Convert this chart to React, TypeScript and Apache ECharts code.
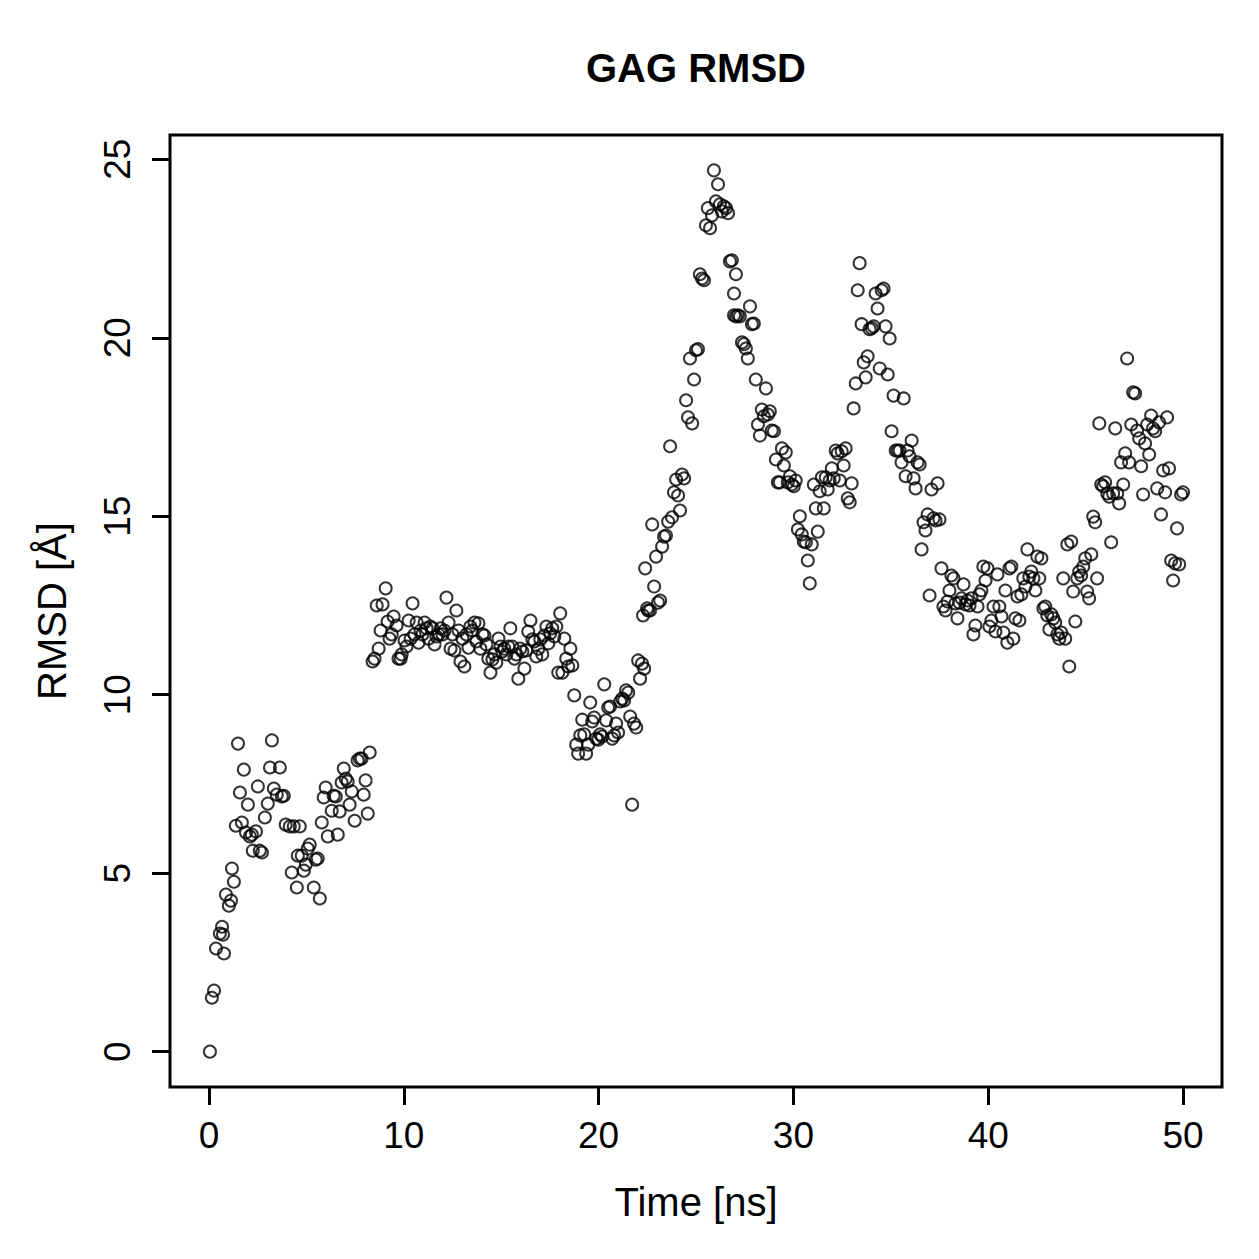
import React, { useEffect, useRef } from "react";
import * as echarts from "echarts";

const title = "GAG RMSD";
const xName = "Time [ns]";
const yName = "RMSD [Å]";
const xTicks = [0, 10, 20, 30, 40, 50];
const yTicks = [0, 5, 10, 15, 20, 25];

const timeA = [0.05,0.15,0.26,0.36,0.56,0.67,0.77,0.72,0.87,1.02,1.13,1.18,1.28,1.49,1.38,1.59,1.69,1.79,1.90,2.00,2.10,2.20,2.25,2.41,2.51,2.61,2.72,2.87,3.02,3.13,3.23,3.33,3.48,3.64,3.74,3.84,3.94,4.15,4.25,4.35,4.56,4.51,4.66,4.76,4.87,4.97,5.07,5.17,5.38,5.48,5.58,5.69,5.79,5.89,5.99,6.10,6.30,6.40,6.51,6.61,6.71,6.81,6.92,7.02,7.12,7.22,7.33,7.48,7.63,7.74,7.84,7.94,8.04,8.15,8.25];
const rmsdA = [0.00,1.51,1.71,2.89,3.31,3.50,2.75,3.28,4.40,4.09,4.23,5.13,4.76,8.63,6.33,7.26,6.42,7.90,6.14,6.92,6.03,6.08,5.63,6.17,7.43,5.63,5.58,6.56,6.95,7.96,8.72,7.37,7.20,7.96,7.15,7.17,6.36,6.31,5.02,6.31,5.49,4.60,6.31,5.49,5.07,5.24,5.69,5.80,4.60,5.38,5.41,4.29,6.42,7.12,7.40,6.03,6.75,7.17,7.15,6.08,6.73,7.54,7.93,7.65,7.57,6.92,7.29,6.47,8.16,8.21,8.21,7.20,7.60,6.67,8.38];

const timeB = [8.40,8.50,8.61,8.71,8.81,8.91,9.07,9.17,9.27,9.38,9.48,9.63,9.73,9.84,9.89,10.04,10.14,10.25,10.35,10.45,10.55,10.66,10.76,10.86,10.96,11.07,11.17,11.27,11.37,11.48,11.58,11.68,11.78,11.89,11.99,12.09,12.19,12.30,12.40,12.50,12.60,12.70,12.81,12.91,13.01,13.11,13.22,13.32,13.42,13.52,13.63,13.73,13.83,13.93,14.04,14.14,14.24,14.34,14.45,14.55,14.65,14.75,14.86,14.96,15.06,15.16,15.27,15.37,15.47,15.57,15.68,15.78,15.88,15.98,16.09,16.19,16.29,16.39,16.50,16.60,16.70,16.80,16.91,17.01,17.11,17.21,17.32,17.42,17.52,17.62,17.73,17.83,17.93,18.03,18.14,18.24,18.34,18.44,18.55,18.65,18.75];
const rmsdB = [10.93,11.01,12.50,11.29,11.80,12.53,12.98,12.05,11.57,11.69,12.19,11.94,11.01,11.01,11.13,11.52,11.35,12.08,11.57,12.56,11.69,12.02,11.46,11.80,11.69,12.02,11.86,11.57,11.91,11.86,11.41,11.63,11.69,11.86,11.69,11.80,12.72,12.02,11.29,11.69,11.24,12.36,11.80,10.93,11.57,10.79,11.69,11.32,11.91,11.80,12.02,11.49,12.00,11.29,11.69,11.66,11.41,11.01,10.62,10.99,11.13,10.90,11.57,11.35,11.21,11.29,11.13,11.35,11.86,11.35,11.01,11.13,10.45,11.29,11.21,10.73,11.24,11.77,12.08,11.55,11.49,11.07,11.29,11.55,11.13,11.66,11.91,11.44,11.72,11.86,11.63,11.91,10.62,12.28,10.62,11.57,11.01,10.79,11.29,10.82,9.98];

const timeC = [18.85,18.95,19.06,19.16,19.26,19.36,19.47,19.57,19.67,19.77,19.88,19.98,20.08,20.18,20.29,20.39,20.49,20.59,20.70,20.80,20.90,21.00,21.11,21.21,21.31,21.41,21.52,21.62,21.72,21.82,21.93,22.03,22.13,22.23,22.34];
const rmsdC = [8.60,8.35,8.86,9.30,8.89,8.35,8.60,9.78,9.25,9.36,8.77,8.74,8.89,8.83,10.29,9.28,9.64,9.67,8.77,8.86,9.19,8.94,9.81,9.89,9.84,10.12,10.06,9.39,6.92,9.19,9.08,10.96,10.45,10.87,10.73];

const timeD = [22.28,22.39,22.49,22.54,22.64,22.75,22.85,22.95,23.05,23.16,23.26,23.36,23.46,23.57,23.67,23.77,23.87,23.98,24.08,24.18,24.28,24.39,24.49,24.59,24.69,24.80,24.90,25.00,25.10,25.20,25.31,25.41,25.51,25.61,25.72,25.82,25.92,26.02,26.13,26.23,26.33,26.43,26.54,26.64,26.74,26.84,26.95,27.05];
const rmsdD = [12.22,13.54,12.42,12.36,12.36,14.77,13.03,13.87,12.58,12.64,14.15,14.43,14.46,14.85,16.96,14.97,15.67,16.03,15.58,15.16,16.17,16.06,18.25,17.77,19.42,17.60,18.83,19.65,19.68,21.78,21.66,21.61,23.15,23.63,23.07,23.43,24.69,23.82,24.30,23.74,23.54,23.68,23.63,23.49,22.14,22.17,21.24,21.78];

const timeE = [26.95,27.05,27.15,27.25,27.36,27.46,27.56,27.66,27.77,27.87,27.97,28.07,28.18,28.28,28.38,28.48,28.59,28.69,28.79,28.89,29.00,29.10,29.20,29.30,29.41,29.51,29.61,29.71,29.82,29.92,30.02,30.12,30.23,30.33,30.43,30.53,30.64,30.74,30.84,30.94,31.05,31.15,31.25,31.35,31.46,31.56,31.66,31.76,31.86,31.97,32.07,32.17,32.27,32.38,32.48,32.58,32.68,32.79,32.89,32.99,33.09,33.20,33.30,33.40,33.50,33.61,33.71,33.81,33.91,34.02,34.12,34.22,34.32,34.43,34.53,34.63,34.73,34.84,34.94,35.04,35.14,35.25,35.35,35.45,35.55,35.66,35.76,35.86,35.96,36.07,36.17,36.27,36.37,36.48,36.58,36.68,36.78,36.89,36.99,37.09,37.19,37.30,37.40,37.50];
const rmsdE = [20.63,20.60,20.63,20.60,19.87,19.82,19.70,19.42,20.88,20.38,20.40,18.83,17.57,17.26,17.99,17.80,18.58,17.85,17.94,17.40,17.38,16.59,15.95,15.95,16.90,16.42,16.79,15.95,16.12,15.89,15.84,16.00,14.63,15.00,14.49,14.29,14.27,13.76,13.12,14.21,15.89,15.22,14.57,15.70,16.09,15.22,16.09,15.75,16.00,16.34,16.06,16.84,16.76,16.00,16.82,16.42,16.90,15.50,15.39,15.92,18.02,18.72,21.33,22.09,20.38,19.31,18.89,19.48,20.24,20.27,20.32,21.24,20.82,19.14,21.33,21.38,20.32,18.97,19.98,17.38,18.38,16.84,16.84,16.84,16.51,18.30,16.12,16.84,16.68,17.12,16.06,15.78,16.51,16.45,14.07,14.83,14.60,15.05,12.78,15.75,14.94,14.88,15.92,14.91];

const timeF = [37.60,37.70,37.81,37.91,38.01,38.11,38.22,38.32,38.42,38.52,38.63,38.73,38.83,38.93,39.04,39.14,39.24,39.34,39.45,39.55,39.65,39.75,39.86,39.96,40.06,40.16,40.27,40.37,40.47,40.57,40.68,40.78,40.88,40.98,41.09,41.19,41.29,41.39,41.50,41.60,41.70,41.80,41.91,42.01,42.11,42.21,42.32,42.42,42.52,42.62,42.73,42.83,42.93,43.03,43.14,43.24,43.34,43.44,43.55,43.65,43.75,43.85,43.95,44.06,44.16,44.26,44.36,44.47,44.57,44.67,44.77,44.88,44.98,45.08,45.18,45.29,45.39,45.49,45.59,45.70,45.80,45.90,46.00,46.11,46.21,46.31,46.41,46.52,46.62,46.72,46.82,46.93,47.03,47.13,47.23,47.34,47.44,47.54,47.64,47.75,47.85,47.95,48.05,48.16,48.26,48.36,48.46,48.57,48.67,48.77,48.87,48.98,49.08,49.18,49.28,49.39,49.49,49.59,49.69,49.80,49.90,50.00];
const rmsdF = [13.54,12.47,12.36,12.61,12.92,13.34,13.26,12.56,12.14,12.58,12.70,13.09,12.53,12.64,12.50,12.70,11.69,11.94,12.47,12.81,12.92,13.59,13.20,13.54,11.91,12.08,12.47,11.77,13.37,12.47,12.19,11.74,12.92,11.46,13.54,13.59,11.57,12.14,12.75,12.08,12.81,13.26,13.03,14.07,13.31,13.45,13.26,12.92,13.87,13.26,13.82,12.42,12.47,12.22,11.83,12.25,12.14,12.02,11.69,11.57,11.74,13.26,11.57,14.21,10.79,14.29,12.89,12.05,13.26,13.45,13.34,13.59,13.82,12.89,12.70,13.93,14.99,14.83,13.26,17.60,15.89,15.84,15.95,15.64,15.55,14.27,15.64,17.46,15.64,15.36,16.51,15.89,16.76,19.42,16.51,17.57,18.47,18.44,17.40,17.18,16.40,15.61,17.04,17.57,16.73,17.82,17.46,17.38,15.78,17.63,15.05,16.28,15.67,17.77,16.34,13.76,13.20,13.68,14.66,13.65,15.61,15.67];

const times = [...timeA, ...timeB, ...timeC, ...timeD, ...timeE, ...timeF];
const rmsds = [...rmsdA, ...rmsdB, ...rmsdC, ...rmsdD, ...rmsdE, ...rmsdF];

const FONT = "'Liberation Sans', Arial, Helvetica, sans-serif";

export default function App() {
  const ref = useRef<HTMLDivElement>(null);
  useEffect(() => {
    if (!ref.current) return;
    const chart = echarts.init(ref.current, undefined, { renderer: "svg" });
    const data = times.map((t, i) => [t, rmsds[i]]);
    chart.setOption({
      animation: false,
      backgroundColor: "#ffffff",
      textStyle: { fontFamily: FONT },
      grid: {
        left: 170,
        top: 135,
        width: 1052,
        height: 952,
        show: true,
        borderColor: "#000",
        borderWidth: 3,
        backgroundColor: "transparent",
      },
      xAxis: {
        type: "value",
        position: "bottom",
        min: -2,
        max: 52,
        splitLine: { show: false },
        axisLine: { show: false, onZero: false },
        axisTick: {
          show: true,
          inside: false,
          customValues: xTicks,
          length: 18,
          lineStyle: { color: "#000", width: 3 },
        },
        axisLabel: {
          show: true,
          customValues: xTicks,
          margin: 30,
          color: "#000",
          fontSize: 37,
          fontFamily: FONT,
        },
      },
      yAxis: {
        type: "value",
        position: "left",
        min: -0.99,
        max: 25.68,
        splitLine: { show: false },
        axisLine: { show: false, onZero: false },
        axisTick: {
          show: true,
          inside: false,
          customValues: yTicks,
          length: 18,
          lineStyle: { color: "#000", width: 3 },
        },
        axisLabel: {
          show: true,
          customValues: yTicks,
          rotate: 90,
          margin: 34,
          color: "#000",
          fontSize: 37,
          fontFamily: FONT,
        },
      },
      graphic: [
        {
          type: "text",
          x: 696,
          y: 68,
          style: {
            text: title,
            fontSize: 40,
            fontWeight: "bold",
            fontFamily: FONT,
            fill: "#000",
            textAlign: "center",
            textVerticalAlign: "middle",
          },
        },
        {
          type: "text",
          x: 696,
          y: 1202,
          style: {
            text: xName,
            fontSize: 40,
            fontFamily: FONT,
            fill: "#000",
            textAlign: "center",
            textVerticalAlign: "middle",
          },
        },
        {
          type: "text",
          x: 52,
          y: 611,
          rotation: Math.PI / 2,
          style: {
            text: yName,
            fontSize: 40,
            fontFamily: FONT,
            fill: "#000",
            textAlign: "center",
            textVerticalAlign: "middle",
          },
        },
      ],
      series: [
        {
          type: "scatter",
          data,
          symbol: "circle",
          symbolSize: 12,
          itemStyle: {
            color: "rgba(0,0,0,0)",
            borderColor: "#000",
            borderWidth: 2,
          },
          emphasis: { disabled: true },
        },
      ],
    });
    return () => chart.dispose();
  }, []);
  return (
    <div
      ref={ref}
      style={{ position: "absolute", left: 0, top: 0, width: 1259, height: 1259, background: "#fff" }}
    />
  );
}
